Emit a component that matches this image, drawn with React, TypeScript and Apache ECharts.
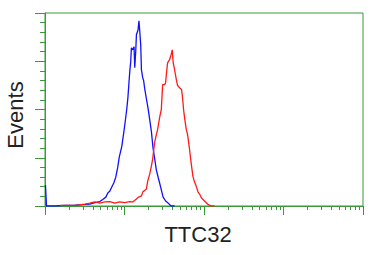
import React, { useEffect, useRef } from "react";
import * as echarts from "echarts";

// x values are in decades of fluorescence (log10), y values are event counts (0-100 scale)
const blueDecades = [0.006, 0.019, 0.125, 0.251, 0.376, 0.502, 0.564, 0.627, 0.69, 0.727, 0.765, 0.79, 0.815, 0.84, 0.865, 0.89, 0.915, 0.934, 0.966, 0.991, 1.009, 1.028, 1.044, 1.057, 1.066, 1.078, 1.087, 1.103, 1.12, 1.129, 1.141, 1.15, 1.17, 1.182, 1.195, 1.204, 1.213, 1.229, 1.241, 1.254, 1.275, 1.295, 1.317, 1.338, 1.358, 1.379, 1.401, 1.423, 1.442, 1.467, 1.486, 1.517, 1.549, 1.586, 1.63];
const blueCounts = [10.8, 0, 0, 0.3, 0.5, 0.8, 1.0, 1.8, 2.3, 3.4, 4.6, 6.7, 7.7, 9.8, 11.9, 14.9, 20.1, 25.3, 30.9, 38.1, 43.8, 50.0, 56.7, 64.4, 69.6, 74.7, 82.0, 80.9, 82.5, 71.6, 79.9, 88.7, 91.2, 95.9, 88.7, 83.5, 70.6, 66.5, 64.9, 60.8, 55.7, 51.0, 44.8, 38.7, 30.4, 24.7, 18.6, 14.9, 11.9, 7.7, 4.6, 2.6, 1.5, 0, 0];

const redDecades = [0.188, 0.401, 0.502, 0.564, 0.627, 0.69, 0.752, 0.815, 0.878, 0.94, 1.003, 1.066, 1.103, 1.15, 1.179, 1.213, 1.229, 1.275, 1.292, 1.317, 1.338, 1.354, 1.379, 1.401, 1.417, 1.442, 1.463, 1.473, 1.48, 1.505, 1.517, 1.53, 1.542, 1.567, 1.586, 1.601, 1.611, 1.63, 1.652, 1.668, 1.693, 1.718, 1.73, 1.743, 1.755, 1.777, 1.793, 1.818, 1.837, 1.86, 1.881, 1.902, 1.925, 1.944, 1.969, 2.006, 2.044, 2.09, 2.132];
const redCounts = [0.3, 0.5, 1.0, 1.5, 2.1, 1.5, 2.1, 2.3, 1.5, 2.1, 1.8, 2.3, 2.1, 3.6, 4.6, 5.2, 7.2, 8.8, 12.9, 16.5, 20.6, 24.2, 33.0, 37.1, 39.7, 45.9, 50.0, 57.7, 62.9, 62.9, 63.9, 69.6, 74.2, 75.8, 78.4, 80.9, 74.7, 70.6, 65.5, 62.4, 61.3, 60.3, 56.2, 50.0, 45.9, 39.7, 37.1, 29.4, 22.7, 15.5, 12.4, 10.3, 7.2, 6.2, 4.1, 2.6, 1.0, 0, 0];

const majorDecades = [0, 1, 2, 3, 4];
const minorMultipliers = [2, 3, 4, 5, 6, 7, 8, 9];
const xAxisTitle = "TTC32";
const yAxisTitle = "Events";

const GREEN = "#3a9a3a";

export default function App() {
  const ref = useRef<HTMLDivElement>(null);
  useEffect(() => {
    if (!ref.current) return;
    const chart = echarts.init(ref.current, undefined, { renderer: "svg" });
    const minorTicks: number[] = [];
    for (let d = 0; d < 4; d++) {
      minorMultipliers.forEach((m) => minorTicks.push(d + Math.log10(m)));
    }
    const zip = (xs: number[], ys: number[]) => xs.map((x, i) => [x, ys[i]]);
    chart.setOption({
      animation: false,
      grid: {
        left: 45,
        right: 22,
        top: 13,
        bottom: 49,
        show: true,
        borderColor: GREEN,
        borderWidth: 1,
        backgroundColor: "transparent",
      },
      xAxis: [
        {
          type: "value",
          min: 0,
          max: 4,
          position: "bottom",
          axisLine: { show: true, lineStyle: { color: GREEN, width: 1 } },
          axisTick: { show: true, length: 9, customValues: majorDecades, lineStyle: { color: GREEN, width: 1 } },
          axisLabel: { show: false },
          splitLine: { show: false },
        },
        {
          type: "value",
          min: 0,
          max: 4,
          position: "bottom",
          axisLine: { show: false },
          axisTick: { show: true, length: 4, customValues: minorTicks, lineStyle: { color: GREEN, width: 1 } },
          axisLabel: { show: false },
          splitLine: { show: false },
        },
      ],
      yAxis: {
        type: "value",
        min: 0,
        max: 100,
        interval: 25,
        axisLine: { show: true, lineStyle: { color: GREEN, width: 1 } },
        axisTick: { show: true, length: 10, lineStyle: { color: GREEN, width: 1 } },
        minorTick: { show: true, splitNumber: 5, length: 5, lineStyle: { color: GREEN, width: 1 } },
        axisLabel: { show: false },
        splitLine: { show: false },
      },
      graphic: [
        {
          type: "text",
          x: 198,
          y: 234,
          style: {
            text: xAxisTitle,
            font: "22px 'Liberation Sans', Arial, sans-serif",
            fill: "#222",
            align: "center",
            verticalAlign: "middle",
          },
        },
        {
          type: "text",
          x: 15.5,
          y: 115,
          rotation: Math.PI / 2,
          style: {
            text: yAxisTitle,
            font: "22px 'Liberation Sans', Arial, sans-serif",
            fill: "#222",
            align: "center",
            verticalAlign: "middle",
          },
        },
      ],
      series: [
        {
          type: "line",
          xAxisIndex: 0,
          data: zip(blueDecades, blueCounts),
          showSymbol: false,
          symbol: "none",
          lineStyle: { color: "#1010ff", width: 1.3 },
          z: 3,
        },
        {
          type: "line",
          xAxisIndex: 0,
          data: zip(redDecades, redCounts),
          showSymbol: false,
          symbol: "none",
          lineStyle: { color: "#ff1a1a", width: 1.3 },
          z: 4,
        },
      ],
    });
    return () => chart.dispose();
  }, []);
  return <div ref={ref} style={{ width: 385, height: 255, position: "absolute", left: 0, top: 0 }} />;
}
